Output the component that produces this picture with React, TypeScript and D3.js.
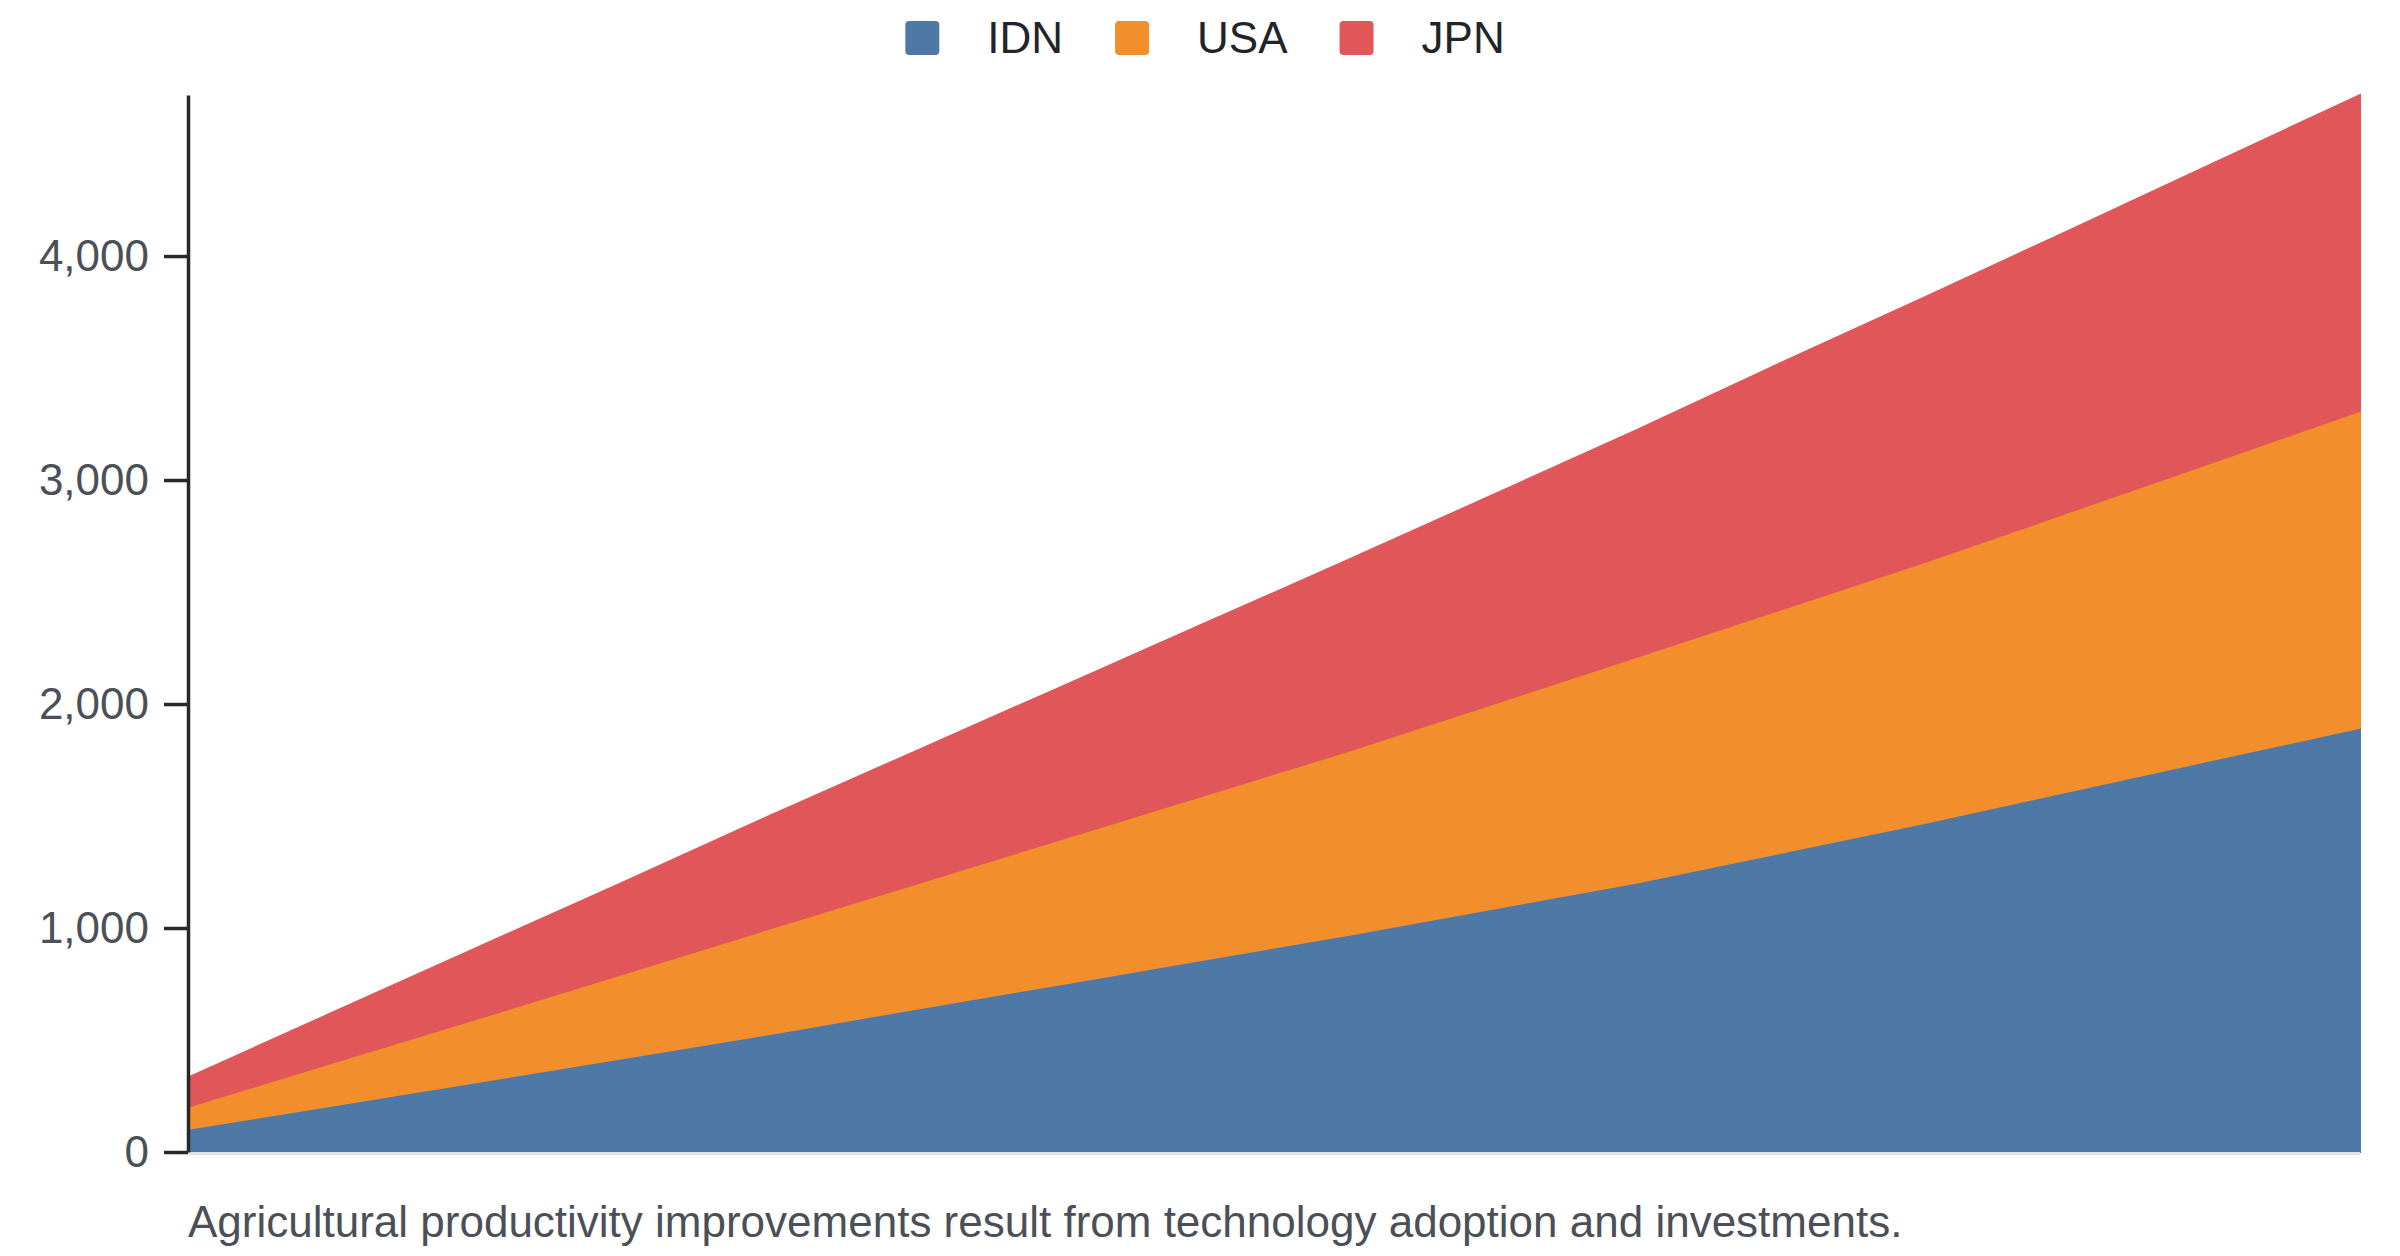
import { useEffect, useRef } from "react";
import * as d3 from "d3";

// values, one per period
const years = [2008, 2009, 2010, 2011, 2012, 2013, 2014, 2015, 2016, 2017, 2018, 2019, 2020, 2021, 2022, 2023];
const keys = ["IDN", "USA", "JPN"];
const colors = ["#4e79a7", "#f28e2c", "#e15759"];
const idn = [103, 208, 313, 418, 525, 636, 746, 857, 968, 1085, 1202, 1336, 1470, 1612, 1753, 1894];
const usa = [99, 191, 283, 376, 469, 556, 645, 732, 820, 913, 1008, 1086, 1165, 1247, 1331, 1415];
const jpn = [130, 224, 317, 409, 502, 590, 677, 765, 852, 932, 1012, 1101, 1183, 1258, 1334, 1410];
const caption = "Agricultural productivity improvements result from technology adoption and investments.";

const FONT = "'Liberation Sans', Arial, Helvetica, sans-serif";

export default function App({
    width = 2400,
    height = 1256,
    marginTop = 95,
    marginRight = 40,
    marginBottom = 104,
    marginLeft = 188,
}) {
    const gy = useRef<SVGGElement>(null);

    const rows = years.map((year, i) => ({ year, IDN: idn[i], USA: usa[i], JPN: jpn[i] }));
    const series = d3.stack().keys(keys)(rows);

    const x = d3.scaleLinear(d3.extent(years) as number[], [marginLeft, width - marginRight]);
    const yMax = d3.max(series[series.length - 1], (d) => d[1]) as number;
    const y = d3.scaleLinear([0, yMax], [height - marginBottom, marginTop]);
    const area = d3
        .area<any>()
        .x((d) => x(d.data.year))
        .y0((d) => y(d[0]))
        .y1((d) => y(d[1]));

    useEffect(() => {
        const g = d3.select(gy.current);
        g.call(d3.axisLeft(y).ticks(5).tickFormat(d3.format(",")).tickSize(24).tickSizeOuter(0).tickPadding(15));
        g.selectAll(".domain").attr("stroke", "#26282c").attr("stroke-width", 3.5);
        g.selectAll(".tick line").attr("stroke", "#26282c").attr("stroke-width", 3.5);
        g.selectAll(".tick text").attr("fill", "#4b5058").attr("font-size", 44).attr("font-family", FONT);
    }, [y]);

    // legend layout from measured label widths
    const ctx = document.createElement("canvas").getContext("2d")!;
    ctx.font = `44px ${FONT}`;
    const sw = 34, gapIn = 48, gapOut = 52;
    const widths = keys.map((k) => ctx.measureText(k).width);
    const total = d3.sum(widths) + keys.length * (sw + gapIn) + (keys.length - 1) * gapOut;
    let cursor = 1205 - total / 2;
    const legend = keys.map((k, i) => {
        const item = { key: k, color: colors[i], x: cursor };
        cursor += sw + gapIn + widths[i] + gapOut;
        return item;
    });

    return (
        <svg
            width={width}
            height={height}
            style={{ position: "absolute", left: 0, top: 0, background: "#fff" }}
            fontFamily={FONT}
        >
            <g>
                {legend.map((d) => (
                    <g key={d.key} transform={`translate(${d.x},21)`}>
                        <rect width={sw} height={sw} rx={4} fill={d.color} />
                        <text x={sw + gapIn} y={32} fontSize={44} fill="#212429">
                            {d.key}
                        </text>
                    </g>
                ))}
            </g>
            <g>
                {series.map((s, i) => (
                    <path key={s.key} d={area(s) as string} fill={colors[i]} stroke={colors[i]} strokeWidth={2} />
                ))}
            </g>
            <line
                x1={marginLeft}
                x2={width - marginRight}
                y1={height - marginBottom + 1.5}
                y2={height - marginBottom + 1.5}
                stroke="#dfe3e8"
                strokeWidth={3}
            />
            <g ref={gy} transform={`translate(${marginLeft},0)`} />
            <text x={marginLeft} y={1237} fontSize={44} fill="#4b5058">
                {caption}
            </text>
        </svg>
    );
}
